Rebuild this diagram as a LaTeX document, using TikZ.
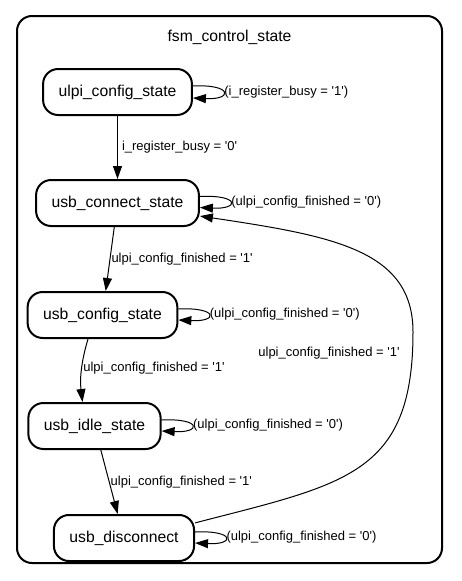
\documentclass[tikz,border=0pt]{standalone}
\usepackage{fontspec}
\setmainfont{Liberation Sans}
\usetikzlibrary{positioning,arrows.meta}
\newcommand\bitval[1]{\textquotesingle#1\textquotesingle}

\begin{document}
\begin{tikzpicture}[
        x=1pt, y=-1pt, >={Triangle[length=13pt,width=9pt]}, line width=1pt,
        state/.style={draw, rounded corners=15pt, line width=2pt, minimum height=46pt,
          inner xsep=15.5pt, font=\fontsize{15.7}{18}\selectfont},
        lbl/.style={font=\fontsize{13}{15}\selectfont, inner sep=1pt}
      ]
        \useasboundingbox (0,0) rectangle (461,581);
        \node (cluster) [draw, line width=2pt, rounded corners=15pt,
          minimum width=425pt, minimum height=547pt] at (229.5,289.5) {};
        \node (title) [font=\fontsize{15.7}{18}\selectfont] at (229.5,37) {fsm\_control\_state};
        \node (ulpi) [state] at (117.5,92) {ulpi\_config\_state};
        \node (connect) [state, below=63pt of ulpi] {usb\_connect\_state};
        \node (config) [state, below=64pt of connect, xshift=-15pt] {usb\_config\_state};
        \node (idle) [state, below=63pt of config, xshift=-8pt] {usb\_idle\_state};
        \node (disc) [state, below=64pt of idle, xshift=29.5pt] {usb\_disconnect};
        \draw[->] (ulpi) -- node[lbl, right, xshift=3pt] {i\_register\_busy = \bitval{0}} (connect);
        \draw[->] (connect) -- node[lbl, right] {ulpi\_config\_finished = \bitval{1}} (config);
        \draw[->] ([xshift=-14.5pt]config.south) .. controls +(-6,20) and +(-3,-25) ..
          node[lbl, right] {ulpi\_config\_finished = \bitval{1}} ([xshift=-12pt]idle.north);
        \draw[->] (idle) -- node[lbl, right] {ulpi\_config\_finished = \bitval{1}} (disc);
        \draw[->] (disc.12) .. controls (345,484) and (413,475) .. (413,332)
          .. controls (413,250) and (333,236) .. (connect.-9)
          node[lbl] at (329,353) {ulpi\_config\_finished = \bitval{1}};
        % self loops
        \draw[->] ([yshift=6pt]ulpi.east) .. controls +(40,-2) and +(40,2) ..
          node[lbl, anchor=west] {(i\_register\_busy = \bitval{1})} ([yshift=-6pt]ulpi.east);
        \draw[->] ([yshift=6.5pt]connect.east) .. controls +(40,-2) and +(40,2) ..
          node[lbl, anchor=west] {(ulpi\_config\_finished = \bitval{0})} ([yshift=-4.5pt]connect.east);
        \draw[->] ([yshift=6pt]config.east) .. controls +(40,-2) and +(40,2) ..
          node[lbl, anchor=west] {(ulpi\_config\_finished = \bitval{0})} ([yshift=-5pt]config.east);
        \draw[->] ([yshift=6pt]idle.east) .. controls +(40,-2) and +(40,2) ..
          node[lbl, anchor=west] {(ulpi\_config\_finished = \bitval{0})} ([yshift=-5pt]idle.east);
        \draw[->] ([yshift=6pt]disc.east) .. controls +(40,-2) and +(40,2) ..
          node[lbl, anchor=west] {(ulpi\_config\_finished = \bitval{0})} ([yshift=-5pt]disc.east);
      \end{tikzpicture}
\end{document}
